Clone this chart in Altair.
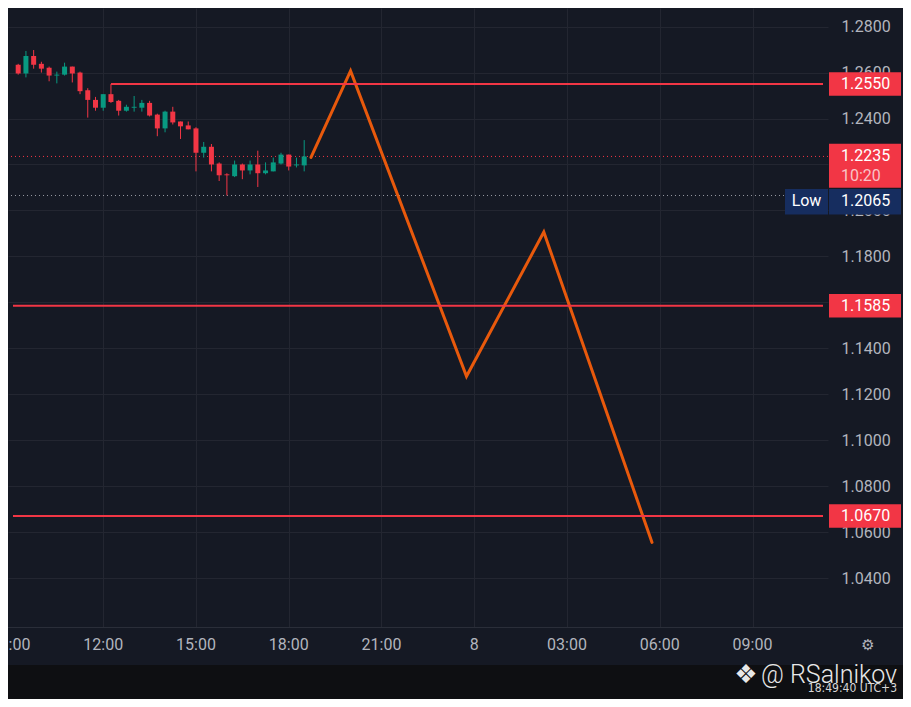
import altair as alt
import pandas as pd

# ---------------- colours / fonts ----------------
BG = "#151924"
GRID = "#232631"
RED = "#f23645"
GREEN = "#089981"
ORANGE = "#e8590c"
NAVY = "#162d5f"
AXIS_TXT = "#b2b5be"
FONT = "Roboto"

# ---------------- layout ----------------
W, H = 820, 619
TOTAL_W, TOTAL_H = 895, 691
X_DOMAIN = [9.082, 35.28]          # hours since 00:00 of day 7
Y_DOMAIN = [1.0187, 1.2881]
PX = (Y_DOMAIN[1] - Y_DOMAIN[0]) / H   # price per pixel

# ---------------- data ----------------
candle_times = ["09:15", "09:30", "09:45", "10:00", "10:15", "10:30", "10:45", "11:00",
                "11:15", "11:30", "11:45", "12:00", "12:15", "12:30", "12:45", "13:00",
                "13:15", "13:30", "13:45", "14:00", "14:15", "14:30", "14:45", "15:00",
                "15:15", "15:30", "15:45", "16:00", "16:15", "16:30", "16:45", "17:00",
                "17:15", "17:30", "17:45", "18:00", "18:15", "18:30"]
opens = [1.2634, 1.2596, 1.2672, 1.2638, 1.2621, 1.2587, 1.2591, 1.2626,
         1.2600, 1.2523, 1.2481, 1.2447, 1.2506, 1.2477, 1.2434, 1.2447,
         1.2447, 1.2468, 1.2417, 1.2357, 1.2430, 1.2387, 1.2370, 1.2357,
         1.2251, 1.2277, 1.2204, 1.2157, 1.2149, 1.2200, 1.2174, 1.2200,
         1.2162, 1.2170, 1.2204, 1.2243, 1.2196, 1.2196]
highs = [1.2638, 1.2694, 1.2698, 1.2647, 1.2626, 1.2604, 1.2643, 1.2626,
         1.2604, 1.2532, 1.2494, 1.2506, 1.2550, 1.2481, 1.2460, 1.2498,
         1.2481, 1.2477, 1.2421, 1.2434, 1.2451, 1.2387, 1.2387, 1.2362,
         1.2298, 1.2289, 1.2209, 1.2162, 1.2217, 1.2204, 1.2217, 1.2260,
         1.2209, 1.2230, 1.2251, 1.2243, 1.2230, 1.2306]
lows = [1.2591, 1.2579, 1.2617, 1.2600, 1.2562, 1.2553, 1.2587, 1.2557,
        1.2506, 1.2404, 1.2434, 1.2434, 1.2468, 1.2413, 1.2430, 1.2430,
        1.2430, 1.2409, 1.2323, 1.2340, 1.2374, 1.2311, 1.2353, 1.2170,
        1.2230, 1.2170, 1.2128, 1.2065, 1.2145, 1.2136, 1.2157, 1.2102,
        1.2157, 1.2170, 1.2200, 1.2174, 1.2187, 1.2170]
closes = [1.2596, 1.2672, 1.2634, 1.2617, 1.2587, 1.2591, 1.2626, 1.2596,
          1.2519, 1.2481, 1.2447, 1.2506, 1.2472, 1.2434, 1.2451, 1.2451,
          1.2468, 1.2413, 1.2357, 1.2430, 1.2383, 1.2366, 1.2353, 1.2251,
          1.2277, 1.2200, 1.2153, 1.2153, 1.2200, 1.2174, 1.2200, 1.2162,
          1.2174, 1.2209, 1.2243, 1.2191, 1.2200, 1.2235]

proj_hours = [18.72, 20.0, 23.75, 26.25, 29.75]
proj_prices = [1.2231, 1.2607, 1.1278, 1.1906, 1.0555]

level_prices = [1.2550, 1.1585, 1.0670]
level_starts = [12.25, X_DOMAIN[0], X_DOMAIN[0]]

current_price = 1.2235
countdown = "10:20"
low_price = 1.2065

grid_hours = [12, 15, 18, 21, 24, 27, 30, 33]
xtick_hours = [9, 12, 15, 18, 21, 24, 27, 30, 33]
xtick_labels = ["09:00", "12:00", "15:00", "18:00", "21:00", "8", "03:00", "06:00", "09:00"]
price_ticks = [1.04, 1.06, 1.08, 1.10, 1.12, 1.14, 1.16, 1.18, 1.20, 1.22, 1.24, 1.26, 1.28]
hidden_price_labels = [1.16, 1.22]   # fully covered by the price boxes on the axis

# ---------------- tables ----------------
def to_h(s):
    hh, mm = s.split(":")
    return int(hh) + int(mm) / 60.0

df_c = pd.DataFrame({
    "h": [to_h(t) for t in candle_times],
    "open": opens, "high": highs, "low": lows, "close": closes,
})
df_c["dir"] = ["up" if c >= o else "down" for o, c in zip(opens, closes)]

df_proj = pd.DataFrame({"h": proj_hours, "p": proj_prices, "i": list(range(len(proj_hours)))})
df_lv = pd.DataFrame({"p": level_prices, "start": level_starts, "end": [X_DOMAIN[1]] * len(level_prices)})
df_cur = pd.DataFrame({"p": [current_price], "cd": [countdown]})
df_low = pd.DataFrame({"p": [low_price], "lab": ["Low"]})
df_xt = pd.DataFrame({"h": xtick_hours, "lab": xtick_labels})
one = pd.DataFrame({"a": [0]})

# ---------------- scales / axes ----------------
hide_expr = " || ".join(f"abs(datum.value - {v}) < 0.0001" for v in hidden_price_labels)
xs = alt.Scale(domain=X_DOMAIN, nice=False, zero=False)
ys = alt.Scale(domain=Y_DOMAIN, nice=False, zero=False)
x_axis = alt.Axis(values=grid_hours, labels=False, ticks=False, domain=False, grid=True,
                  gridColor=GRID, gridWidth=1, title=None)
y_axis = alt.Axis(orient="right", values=price_ticks, format=".4f", labelAlign="left",
                  labelBaseline="middle", labelPadding=13, labelFontSize=16, labelFont=FONT,
                  labelColor=AXIS_TXT, labelOverlap=False, labelFlush=False, ticks=False,
                  labelExpr=f"({hide_expr}) ? '' : datum.label",
                  domain=False, grid=True, gridColor=GRID, gridWidth=1, title=None)


def X(f):
    return alt.X(f, type="quantitative", scale=xs, axis=x_axis)


def Y(f):
    return alt.Y(f, type="quantitative", scale=ys, axis=y_axis)


color_enc = alt.Color("dir:N", scale=alt.Scale(domain=["up", "down"], range=[GREEN, RED]), legend=None)

# ---------------- layers ----------------
strip = alt.Chart(one).mark_rect(color="#0e0f12").encode(
    x=alt.value(0), x2=alt.value(TOTAL_W), y=alt.value(H + 38), y2=alt.value(TOTAL_H))
divider = alt.Chart(one).mark_rule(color="#2a2e39", strokeWidth=1).encode(
    x=alt.value(0), x2=alt.value(TOTAL_W), y=alt.value(H + 0.5))

cur_line = alt.Chart(df_cur).mark_rule(color=RED, strokeDash=[1, 3], strokeWidth=1).encode(y=Y("p"))
low_line = alt.Chart(df_low).mark_rule(color="#9598a1", strokeDash=[1, 3], strokeWidth=1).encode(y=Y("p"))

wicks = alt.Chart(df_c).mark_rule(strokeWidth=1).encode(
    x=X("h"), y=Y("low"), y2=alt.Y2("high"), color=color_enc)
bodies = alt.Chart(df_c).mark_bar(size=5).encode(
    x=X("h"), y=Y("open"), y2=alt.Y2("close"), color=color_enc)

proj = alt.Chart(df_proj).mark_line(color=ORANGE, strokeWidth=3, strokeCap="round",
                                    strokeJoin="miter").encode(x=X("h"), y=Y("p"), order="i:Q")

levels = alt.Chart(df_lv).mark_rule(color=RED, strokeWidth=2).encode(
    x=X("start"), x2=alt.X2("end"), y=Y("p"))

HB = 11.7 * PX
lv_boxes = alt.Chart(df_lv).transform_calculate(
    t=f"datum.p + {HB}", b=f"datum.p - {HB}"
).mark_rect(color=RED).encode(x=alt.value(821), x2=alt.value(893), y=Y("t"), y2=alt.Y2("b"))
lv_text = alt.Chart(df_lv).mark_text(align="left", baseline="middle", fontSize=16, font=FONT,
                                     color="white").encode(
    x=alt.value(833), y=Y("p"), text=alt.Text("p:Q", format=".4f"))

cur_box = alt.Chart(df_cur).transform_calculate(
    t=f"datum.p + {12.7 * PX}", b=f"datum.p - {31.3 * PX}"
).mark_rect(color=RED).encode(x=alt.value(821), x2=alt.value(893), y=Y("t"), y2=alt.Y2("b"))
cur_text = alt.Chart(df_cur).mark_text(align="left", baseline="middle", fontSize=16, font=FONT,
                                       color="white").encode(
    x=alt.value(833), y=Y("p"), text=alt.Text("p:Q", format=".4f"))
cur_cd = alt.Chart(df_cur).mark_text(align="left", baseline="middle", fontSize=16, font=FONT,
                                     color="#f9c3c8", dy=20).encode(
    x=alt.value(833), y=Y("p"), text="cd:N")

low_lab_box = alt.Chart(df_low).transform_calculate(
    t=f"datum.p + {6.5 * PX}", b=f"datum.p - {18.9 * PX}"
).mark_rect(color=NAVY).encode(x=alt.value(777), x2=alt.value(820), y=Y("t"), y2=alt.Y2("b"))
low_val_box = alt.Chart(df_low).transform_calculate(
    t=f"datum.p + {6.5 * PX}", b=f"datum.p - {18.9 * PX}"
).mark_rect(color=NAVY).encode(x=alt.value(821), x2=alt.value(893), y=Y("t"), y2=alt.Y2("b"))
low_lab = alt.Chart(df_low).mark_text(align="center", baseline="middle", fontSize=16, font=FONT,
                                      color="white", dy=6).encode(
    x=alt.value(798.5), y=Y("p"), text="lab:N")
low_val = alt.Chart(df_low).mark_text(align="left", baseline="middle", fontSize=16, font=FONT,
                                      color="white", dy=6).encode(
    x=alt.value(833), y=Y("p"), text=alt.Text("p:Q", format=".4f"))

xlabels = alt.Chart(df_xt).mark_text(baseline="middle", align="center", fontSize=16, font=FONT,
                                     color=AXIS_TXT).encode(
    x=X("h"), y=alt.value(H + 18), text="lab:N")

gear = alt.Chart(one).mark_text(text="⚙", fontSize=15, color=AXIS_TXT, baseline="middle",
                                align="center", font="DejaVu Sans").encode(
    x=alt.value(860), y=alt.value(H + 18))

logo = alt.Chart(one).mark_text(text="❖", fontSize=26, color="#e8e8e8", baseline="middle",
                                align="center", font="DejaVu Sans").encode(
    x=alt.value(738), y=alt.value(667))
wm = alt.Chart(one).mark_text(text="@ RSalnikov", fontSize=25, color="#e8e8e8",
                              baseline="alphabetic", align="left", font=FONT,
                              fontWeight=300).encode(
    x=alt.value(753), y=alt.value(675))
stamp = alt.Chart(one).mark_text(text="18:49:40 UTC+3", fontSize=12, color="#d8d8d8",
                                 baseline="alphabetic", align="right",
                                 font="DejaVu Sans Condensed").encode(
    x=alt.value(889), y=alt.value(684))

chart = alt.layer(
    strip, divider, cur_line, low_line, proj, levels, wicks, bodies,
    lv_boxes, lv_text, cur_box, cur_text, cur_cd,
    low_lab_box, low_val_box, low_lab, low_val,
    xlabels, gear, logo, wm, stamp,
).properties(
    width=W, height=H,
    padding={"left": 0, "top": 0, "right": TOTAL_W - W, "bottom": TOTAL_H - H},
    autosize=alt.AutoSizeParams(type="none"),
    background=BG,
).configure_view(stroke=None)

chart.save("out.html", embed_options={"renderer": "svg", "actions": False})
